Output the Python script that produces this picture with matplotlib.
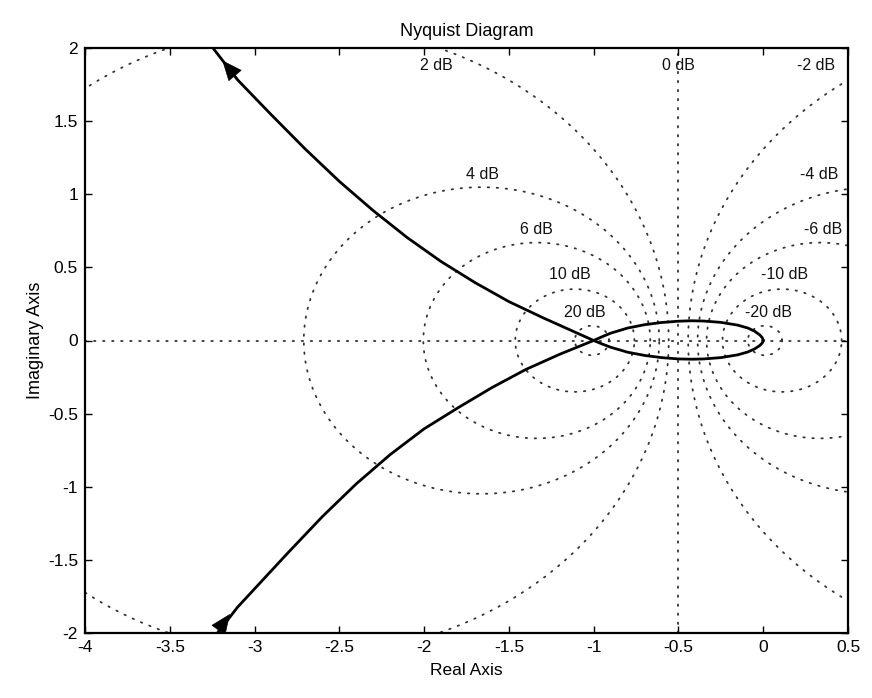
import numpy as np
import matplotlib
matplotlib.use("Agg")
import matplotlib.pyplot as plt

plt.rcParams['font.family'] = ['Liberation Sans', 'DejaVu Sans']

# ---- data ----
# negative-frequency branch: from top-left down to (-1,0), then lower half of loop to origin
neg_re = [-3.25, -3.20, -3.10, -3.00, -2.90, -2.80, -2.70, -2.60, -2.50, -2.40,
          -2.30, -2.20, -2.10, -2.00, -1.90, -1.80, -1.70, -1.60, -1.50, -1.40,
          -1.30, -1.20, -1.10, -1.00,
          -0.95, -0.90, -0.80, -0.70, -0.60, -0.50, -0.42, -0.35, -0.25,
          -0.15, -0.09, -0.05, -0.02, -0.005, 0.000]
neg_im = [2.007, 1.932, 1.782, 1.662, 1.542, 1.425, 1.308, 1.198, 1.088, 0.988,
          0.888, 0.796, 0.704, 0.622, 0.540, 0.468, 0.396, 0.331, 0.266, 0.211,
          0.156, 0.104, 0.052, 0.000,
          -0.024, -0.046, -0.080, -0.102, -0.117, -0.126, -0.128, -0.126, -0.117,
          -0.098, -0.078, -0.057, -0.034, -0.016, 0.000]
# positive-frequency branch: from bottom-left up to (-1,0), then upper half of loop to origin
pos_re = [-3.22, -3.20, -3.10, -3.00, -2.90, -2.80, -2.70, -2.60, -2.50, -2.40,
          -2.30, -2.20, -2.10, -2.00, -1.90, -1.80, -1.70, -1.60, -1.50, -1.40,
          -1.30, -1.20, -1.10, -1.00,
          -0.95, -0.90, -0.80, -0.70, -0.60, -0.50, -0.42, -0.35, -0.25,
          -0.15, -0.09, -0.05, -0.02, -0.005, 0.000]
pos_im = [-2.003, -1.973, -1.823, -1.698, -1.573, -1.448, -1.326, -1.204, -1.092, -0.980,
          -0.880, -0.780, -0.692, -0.604, -0.532, -0.460, -0.391, -0.322, -0.260, -0.198,
          -0.146, -0.094, -0.047, 0.000,
          0.026, 0.050, 0.085, 0.108, 0.123, 0.132, 0.135, 0.133, 0.124,
          0.105, 0.085, 0.063, 0.038, 0.018, 0.000]

# M-circle grid values (dB) and label positions
m_db = [-20, -10, -6, -4, -2, 2, 4, 6, 10, 20]
grid_labels = ["2 dB", "0 dB", "-2 dB", "4 dB", "-4 dB", "6 dB", "-6 dB",
               "10 dB", "-10 dB", "20 dB", "-20 dB"]
label_x = [-1.926, -0.500, 0.313, -1.656, 0.330, -1.338, 0.354, -1.139, 0.125, -1.050, 0.031]
label_y = [1.879, 1.879, 1.879, 1.133, 1.133, 0.758, 0.758, 0.451, 0.451, 0.191, 0.191]

x_ticks = [-4, -3.5, -3, -2.5, -2, -1.5, -1, -0.5, 0, 0.5]
x_ticklabels = ["-4", "-3.5", "-3", "-2.5", "-2", "-1.5", "-1", "-0.5", "0", "0.5"]
y_ticks = [-2, -1.5, -1, -0.5, 0, 0.5, 1, 1.5, 2]
y_ticklabels = ["-2", "-1.5", "-1", "-0.5", "0", "0.5", "1", "1.5", "2"]

# ---- figure ----
fig = plt.figure(figsize=(8.72, 6.98), dpi=100)
ax = fig.add_axes([85/872, 1-633/698, (848-85)/872, (633-48)/698])
ax.set_xlim(-4, 0.5)
ax.set_ylim(-2, 2)

dot_kw = dict(color='#333333', lw=1.3, linestyle=(0, (0.8, 4.2)),
              dash_capstyle='round', zorder=1)

# M-circles
t = np.linspace(0, 2*np.pi, 720)
for db in m_db:
    M = 10 ** (db / 20.0)
    c = -M**2 / (M**2 - 1)
    r = abs(M / (M**2 - 1))
    ax.plot(c + r*np.cos(t), r*np.sin(t), **dot_kw)
# 0 dB line and real axis
ax.plot([-0.5, -0.5], [-2, 2], **dot_kw)
ax.plot([-4, 0.5], [0, 0], **dot_kw)

for s, lx, ly in zip(grid_labels, label_x, label_y):
    ax.text(lx, ly, s, ha='center', va='center', fontsize=11.5, color='#111111')

# Nyquist curve
ax.plot(neg_re, neg_im, color='black', lw=2.0, zorder=3, solid_joinstyle='round')
ax.plot(pos_re, pos_im, color='black', lw=2.0, zorder=3, solid_joinstyle='round')

# direction arrows
head = dict(arrowstyle='-|>,head_length=0.75,head_width=0.32', color='black',
            lw=0.5, mutation_scale=18, shrinkA=0, shrinkB=0)
a1 = ax.annotate('', xy=(-3.19, 1.915), xytext=(-3.05, 1.722),
                 arrowprops=head, zorder=4)
a2 = ax.annotate('', xy=(-3.145, -1.87), xytext=(-3.25, -2.04),
                 arrowprops=head, zorder=4, annotation_clip=False)
for a in (a1, a2):
    a.arrow_patch.set_clip_path(ax.patch)

ax.set_xticks(x_ticks)
ax.set_xticklabels(x_ticklabels)
ax.set_yticks(y_ticks)
ax.set_yticklabels(y_ticklabels)
ax.tick_params(direction='in', top=True, right=True, length=5, width=1,
               labelsize=12.5, pad=5)
for sp in ax.spines.values():
    sp.set_linewidth(1.6)

ax.set_title("Nyquist Diagram", fontsize=13, pad=9)
ax.set_xlabel("Real Axis", fontsize=12.5, labelpad=6)
ax.set_ylabel("Imaginary Axis", fontsize=13, labelpad=3)

fig.savefig("out.png", dpi=100)
